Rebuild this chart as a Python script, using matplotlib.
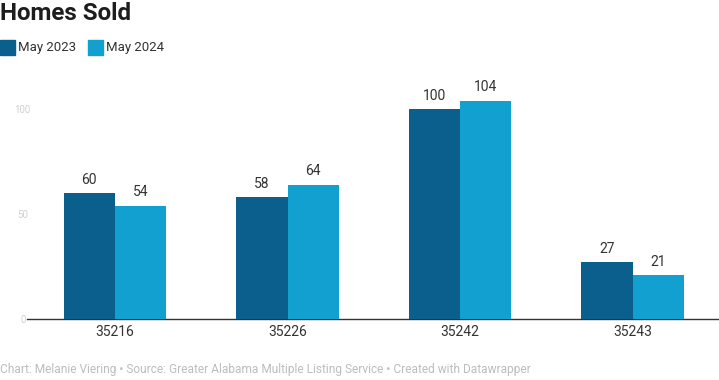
import matplotlib
matplotlib.use("Agg")
import matplotlib.pyplot as plt
import numpy as np
from matplotlib.patches import Rectangle

categories = ["35216", "35226", "35242", "35243"]
series_names = ["May 2023", "May 2024"]
may_2023 = [60, 58, 100, 27]
may_2024 = [54, 64, 104, 21]
y_ticks = [0, 50, 100]

colors = ["#0b5f8c", "#12a0d0"]

plt.rcParams['font.family'] = ['Roboto', 'DejaVu Sans']

fig = plt.figure(figsize=(7.19, 3.80), dpi=100)
ax = fig.add_axes([20/719, 61/380, 699/719, 231/380])

x = np.arange(len(categories))
w = 0.297
b1 = ax.bar(x - w/2, may_2023, width=w, color=colors[0], zorder=3)
b2 = ax.bar(x + w/2, may_2024, width=w, color=colors[1], zorder=3)

for bars, vals in ((b1, may_2023), (b2, may_2024)):
    for r, v in zip(bars, vals):
        ax.text(r.get_x() + r.get_width()/2, v + 3, str(v), ha='center', va='bottom',
                fontsize=10, color='#333333')

ax.set_xlim(-0.55, 3.5)
ax.set_ylim(0, 110)
ax.set_xticks(x)
ax.set_xticklabels(categories, fontsize=10, color='#333333')
ax.set_yticks(y_ticks)
ax.set_yticklabels([str(t) for t in y_ticks], fontsize=7, color='#d0d0d0')
ax.tick_params(axis='x', length=0, pad=4)
ax.tick_params(axis='y', length=0, pad=-2)
for lab in ax.get_yticklabels():
    lab.set_horizontalalignment('center')
for s in ['top', 'right', 'left']:
    ax.spines[s].set_visible(False)
ax.spines['bottom'].set_color('#333333')
ax.spines['bottom'].set_linewidth(1.0)
ax.spines['bottom'].set_bounds(-0.51, 3.5)

fig.text(0.0, 1 - 14/380, "Homes Sold", fontsize=17.4, fontweight='bold',
         color='#1d1d1d', va='center', ha='left')

lx = [0, 88]
for i, name in enumerate(series_names):
    fig.patches.append(Rectangle((lx[i]/719, 1 - 55/380), 15/719, 15/380,
                                 transform=fig.transFigure, color=colors[i]))
    fig.text((lx[i] + 18)/719, 1 - 47/380, name, fontsize=9.5, color='#333333',
             va='center', ha='left')

fig.text(0.0, 1 - 369/380,
         "Chart: Melanie Viering \u2022 Source: Greater Alabama Multiple Listing Service \u2022 Created with Datawrapper",
         fontsize=8.6, color='#bdbdbd', va='center', ha='left', fontstretch='condensed')

fig.savefig("out.png", dpi=100)
